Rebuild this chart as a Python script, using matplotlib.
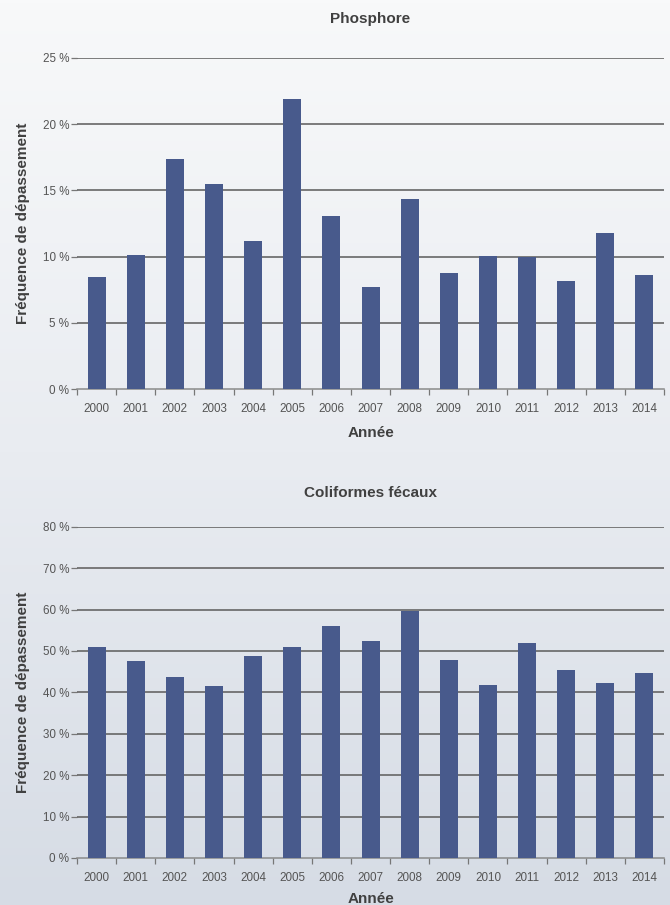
import numpy as np
import matplotlib
matplotlib.use("Agg")
import matplotlib.pyplot as plt
from matplotlib.colors import LinearSegmentedColormap

plt.rcParams["font.family"] = ["Liberation Sans", "DejaVu Sans"]

years = [str(y) for y in range(2000, 2015)]
phosphore = [8.45, 10.1, 17.4, 15.45, 11.15, 21.9, 13.1, 7.7, 14.35, 8.8,
             10.05, 9.95, 8.2, 11.75, 8.6]
coliformes = [51.0, 47.6, 43.7, 41.6, 48.8, 51.0, 56.0, 52.4, 59.7, 47.8,
              41.8, 51.9, 45.4, 42.3, 44.7]

BAR = "#485a8c"
TEXT = "#404040"
TICK = "#555555"

fig = plt.figure(figsize=(6.7, 9.05), dpi=100)

# background gradient
bg = fig.add_axes([0, 0, 1, 1], zorder=-10)
cmap = LinearSegmentedColormap.from_list("bg", ["#f8f9fa", "#e9ecf1", "#d6dce5"])
bg.imshow(np.linspace(0, 1, 256).reshape(-1, 1), aspect="auto", cmap=cmap,
          extent=[0, 1, 0, 1])
bg.set_axis_off()


def draw(rect, values, title, ymax, step, title_pad, xlabel_pad):
    ax = fig.add_axes(rect)
    ax.set_facecolor("none")
    x = np.arange(len(years))
    ax.bar(x, values, width=0.46, color=BAR, zorder=3)
    ax.set_xlim(-0.5, len(years) - 0.5)
    ax.set_ylim(0, ymax)
    yt = np.arange(0, ymax + 0.1, step)
    ax.set_yticks(yt)
    ax.set_yticklabels([f"{int(v)} %" for v in yt], fontsize=8.4, color=TICK)
    for v in yt[1:]:
        ax.axhline(v, color="#666666", lw=1.2, zorder=2)
    ax.set_xticks(x)
    ax.set_xticklabels(years, fontsize=8.4, color=TICK)
    ax.set_xticks(np.arange(-0.5, len(years)), minor=True)
    ax.tick_params(axis="x", which="major", length=0, pad=10)
    ax.tick_params(axis="x", which="minor", length=4, color="#777777", width=0.9)
    ax.tick_params(axis="y", length=4, color="#777777", width=0.9, pad=1.5)
    for s in ["top", "right", "left"]:
        ax.spines[s].set_visible(False)
    ax.spines["bottom"].set_color("#8a8a8a")
    ax.spines["bottom"].set_linewidth(1.1)
    ax.set_title(title, fontsize=11, fontweight="bold", color=TEXT, pad=title_pad)
    ax.set_xlabel("Année", fontsize=11, fontweight="bold", color=TEXT,
                  labelpad=xlabel_pad)
    ax.set_ylabel("Fréquence de dépassement", fontsize=11, fontweight="bold",
                  color=TEXT, labelpad=9)
    return ax


draw([0.115, 0.570, 0.876, 0.366], phosphore, "Phosphore", 25, 5, 25, 8)
draw([0.115, 0.052, 0.876, 0.366], coliformes, "Coliformes fécaux", 80, 10, 21.5, 6)

fig.savefig("out.png", dpi=100)
